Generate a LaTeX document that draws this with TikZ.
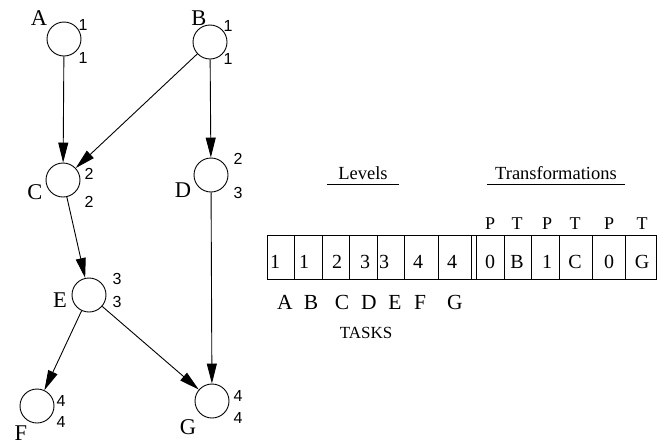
\documentclass[tikz,border=0pt]{standalone}
\usepackage{fontspec}
\setmainfont{Liberation Serif}
\newfontfamily\numfont{Liberation Sans}
\usetikzlibrary{arrows.meta}

\begin{document}
\begin{tikzpicture}[x=1pt,y=-1pt,
  task/.style={circle,draw,line width=0.9pt,minimum size=34pt,inner sep=0pt},
  tname/.style={font=\fontsize{22.5}{22.5}\selectfont,inner sep=0pt},
  lvl/.style={font=\numfont\fontsize{16}{16}\selectfont,inner sep=0pt},
  dep/.style={line width=0.9pt,-{Triangle[length=20pt,width=10pt]}},
  cell/.style={font=\fontsize{20}{20}\selectfont,inner sep=0pt},
  optag/.style={font=\fontsize{18}{18}\selectfont,inner sep=0pt},
  head/.style={font=\fontsize{18.5}{18.5}\selectfont,inner sep=0pt},
  grid/.style={line width=0.9pt},
]
\useasboundingbox (0,0) rectangle (666,445);

% task graph
\node[task] (A) at (64,39)  {};
\node[task] (B) at (210,42) {};
\node[task] (C) at (63,180) {};
\node[task] (D) at (211,175) {};
\node[task] (E) at (89,295) {};
\node[task] (F) at (37,406) {};
\node[task] (G) at (212,401) {};

\node[tname] (lA) at (39,18)  {A};
\node[tname] (lB) at (199,18) {B};
\node[tname] (lC) at (35,192) {C};
\node[tname] (lD) at (183,190) {D};
\node[tname] (lE) at (60,300) {E};
\node[tname] (lF) at (21,433) {F};
\node[tname] (lG) at (188,427) {G};

% level pairs beside each task
\node[lvl] (a1) at (83,25) {1};   \node[lvl] (a2) at (83,58) {1};
\node[lvl] (b1) at (228,26) {1};  \node[lvl] (b2) at (228,59) {1};
\node[lvl] (c1) at (89,174) {2};  \node[lvl] (c2) at (89,202) {2};
\node[lvl] (d1) at (238,159) {2}; \node[lvl] (d2) at (238,193) {3};
\node[lvl] (e1) at (117,279) {3}; \node[lvl] (e2) at (117,302) {3};
\node[lvl] (f1) at (61,401) {4};  \node[lvl] (f2) at (61,422) {4};
\node[lvl] (g1) at (238,396) {4}; \node[lvl] (g2) at (238,418) {4};

% dependencies
\draw[dep] (A) -- (C);
\draw[dep] (B) -- (C);
\draw[dep] (B) -- (D);
\draw[dep] (C) -- (E);
\draw[dep] (E) -- (F);
\draw[dep] (E) -- (G);
\draw[dep] (D) -- (G);

% headings
\node[head] (hL) at (363,173) {Levels};
\node[head] (hT) at (556,173) {Transformations};
\draw[grid] (327,184) -- (399,184);
\draw[grid] (487,184) -- (625,184);

% encoding table
\draw[grid] (267,235) rectangle (656,279);
\foreach \x in {294,322,349,377,404,438,471,476,504,531,559,592,625}
  \draw[grid] (\x,235) -- (\x,279);

\foreach \x/\t [count=\i] in {275/1,304/1,337/2,365/3,384/3,418/4,452/4,
                               490/0,517/B,547/1,575/C,609/0,642/G}
  \node[cell] (v\i) at (\x,262) {\t};

\foreach \x/\t [count=\i] in {490/P,517/T,547/P,575/T,609/P,642/T}
  \node[optag] (pt\i) at (\x,224) {\t};

\foreach \x/\t in {285/A,311/B,342/C,369/D,395/E,420/F,455/G}
  \node[cell,font=\fontsize{21.5}{21.5}\selectfont] (k\t) at (\x,302) {\t};

\node[inner sep=0pt,font=\fontsize{17}{17}\selectfont] (tasks) at (366,333) {TASKS};
\end{tikzpicture}
\end{document}
